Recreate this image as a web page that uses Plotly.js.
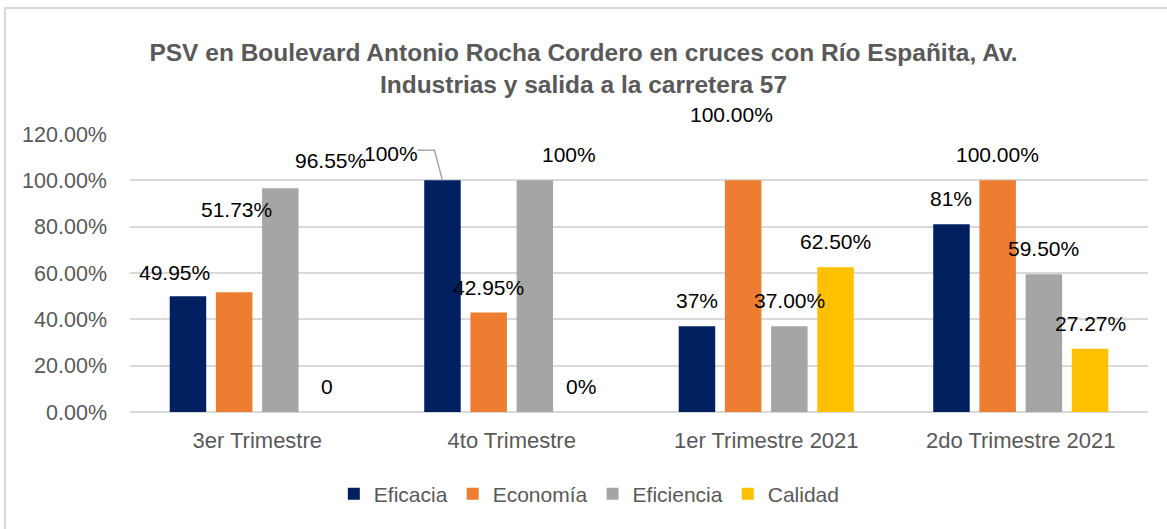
<!DOCTYPE html>
<html>
<head>
<meta charset="utf-8">
<script src="https://cdn.plot.ly/plotly-3.0.1.min.js"></script>
<style>
  html, body { margin: 0; padding: 0; background: #fff; }
  #wrap { position: relative; width: 1167px; height: 529px; overflow: hidden; }
  #chart { position: absolute; left: 0; top: 0; width: 1167px; height: 529px; }
  #frame { position: absolute; left: 4px; top: 7px; width: 1200px; height: 600px;
           border-left: 2px solid #d9d9d9; border-top: 2px solid #d9d9d9; pointer-events: none; }
</style>
</head>
<body>
<div id="wrap">
  <div id="chart"></div>
  <div id="frame"></div>
</div>
<script>
// ---- data ----
const categories = ["3er Trimestre", "4to Trimestre", "1er Trimestre 2021", "2do Trimestre 2021"];
const seriesNames = ["Eficacia", "Economía", "Eficiencia", "Calidad"];
const eficacia   = [0.4995, 1.00, 0.37, 0.81];
const economia   = [0.5173, 0.4295, 1.00, 1.00];
const eficiencia = [0.9655, 1.00, 0.37, 0.595];
const calidad    = [0, 0, 0.625, 0.2727];
const eficaciaLabels   = ["49.95%", "100%", "37%", "81%"];
const economiaLabels   = ["51.73%", "42.95%", "100.00%", "100.00%"];
const eficienciaLabels = ["96.55%", "100%", "37.00%", "59.50%"];
const calidadLabels    = ["0", "0%", "62.50%", "27.27%"];
const yTickVals = [0, 0.2, 0.4, 0.6, 0.8, 1.0, 1.2];
const titleText = "PSV en Boulevard Antonio Rocha Cordero en cruces con Río Españita, Av.<br>Industrias y salida a la carretera 57";

// ---- style ----
const colors = ["#002060", "#ED7D31", "#A5A5A5", "#FFC000"];
const FONT = "Liberation Sans, Arial, sans-serif";
const bargap = 0.274, bargroupgap = 0.21;
const slot = (1 - bargap) / 4;

const values = [eficacia, economia, eficiencia, calidad];
const labels = [eficaciaLabels, economiaLabels, eficienciaLabels, calidadLabels];

const traces = seriesNames.map((name, s) => ({
  type: "bar",
  name: name,
  x: categories,
  y: values[s],
  marker: { color: colors[s] },
  hoverinfo: "skip"
}));

// label placement tweaks (pixels): [series][category] -> [dx, dy]
const defaultShift = [0, 25.5];
const shiftOverrides = {
  "0,0": [-13.5, 23.7],
  "1,0": [2.5, 82.3],
  "2,0": [50.3, 27.9],
  "0,1": [-51.5, 27.3],
  "2,1": [34.6, 25.6],
  "1,2": [-12, 65.6]
};

const annotations = [];
values.forEach((arr, s) => {
  arr.forEach((v, c) => {
    const sh = shiftOverrides[s + "," + c] || defaultShift;
    annotations.push({
      xref: "x", yref: "y",
      x: c + (s - 1.5) * slot,
      y: v,
      text: labels[s][c],
      showarrow: false,
      xanchor: "center", yanchor: "middle",
      xshift: sh[0], yshift: sh[1],
      font: { family: FONT, size: 21, color: "#000000" }
    });
  });
});

// leader line for the displaced 4to Trimestre / Eficacia label
const shapes = [{
  type: "path",
  xref: "x", yref: "y",
  xsizemode: "pixel", ysizemode: "pixel",
  xanchor: 1 + (0 - 1.5) * slot,
  yanchor: eficacia[1],
  path: "M-25,30 L-8,30 L0,0",
  line: { color: "#A6A6A6", width: 1.5 }
}];

const layout = {
  width: 1167, height: 529,
  paper_bgcolor: "rgba(0,0,0,0)",
  plot_bgcolor: "#ffffff",
  margin: { l: 130, r: 19, t: 134, b: 117 },
  barmode: "group",
  bargap: bargap,
  bargroupgap: bargroupgap,
  showlegend: true,
  title: {
    text: titleText,
    x: 0.5, xref: "container", xanchor: "center",
    y: 0.884, yref: "container", yanchor: "middle",
    font: { family: FONT, size: 24.5, color: "#595959", weight: "bold" }
  },
  xaxis: {
    type: "category",
    range: [-0.5, 3.5],
    showgrid: false,
    zeroline: false,
    showline: false,
    ticks: "",
    tickfont: { family: FONT, size: 22, color: "#595959" },
    ticklabelstandoff: 13,
    fixedrange: true
  },
  yaxis: {
    range: [0, 1.2],
    tickvals: yTickVals,
    tickformat: ".2%",
    showgrid: true,
    gridcolor: "#D9D9D9",
    gridwidth: 2,
    zeroline: true,
    zerolinecolor: "#D9D9D9",
    zerolinewidth: 2,
    showline: false,
    ticks: "",
    tickfont: { family: FONT, size: 21.5, color: "#595959" },
    ticklabelstandoff: 22,
    fixedrange: true
  },
  legend: {
    orientation: "h",
    x: 0.505, xanchor: "center", xref: "container",
    y: 0.066, yanchor: "middle", yref: "container",
    font: { family: FONT, size: 21, color: "#595959" },
    itemclick: false, itemdoubleclick: false,
    traceorder: "normal"
  },
  annotations: annotations,
  shapes: shapes
};

Plotly.newPlot("chart", traces, layout, { displayModeBar: false, staticPlot: true });
</script>
</body>
</html>
